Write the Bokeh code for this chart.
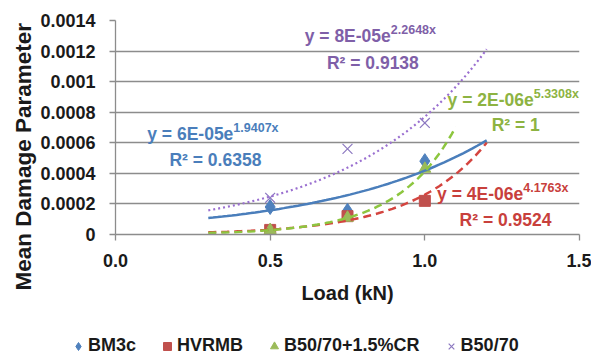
from bokeh.plotting import figure
from bokeh.layouts import column, row
from bokeh.models import (ColumnDataSource, FixedTicker, Legend, LegendItem, Label, Title,
                          PrintfTickFormatter)
from bokeh.embed import file_html
from bokeh.resources import INLINE
import numpy as np

# ---- data ----
loads = [0.5, 0.75, 1.0]
bm3c = [0.00018, 0.000155, 0.00048]
hvrmb = [0.00003, 0.00012, 0.00022]
b5070cr = [0.00003, 0.00011, 0.00043]
b5070 = [0.00024, 0.00056, 0.00073]
series_names = ["BM3c", "HVRMB", "B50/70+1.5%CR", "B50/70"]

# exponential trendlines y = A e^(b x) as reported on the chart
trend_A = [6e-05, 4e-06, 2e-06, 8e-05]
trend_b = [1.9407, 4.1763, 5.3308, 2.2648]
trend_r2 = ["0.6358", "0.9524", "1", "0.9138"]
trend_x_start = [0.3, 0.3, 0.3, 0.3]
trend_x_end = [1.2, 1.2, 1.1, 1.2]

x_ticks = [0.0, 0.5, 1.0, 1.5]
y_ticks = [0, 0.0002, 0.0004, 0.0006, 0.0008, 0.001, 0.0012, 0.0014]
y_tick_labels = ["0", "0.0002", "0.0004", "0.0006", "0.0008", "0.001", "0.0012", "0.0014"]
y_title = "Mean Damage Parameter"
x_title = "Load (kN)"

# ---- style ----
FONT = "Liberation Sans"
marker_colors = ["#4F81BD", "#C0504D", "#9BBB59", "#8C78C0"]
markers = ["diamond", "square", "triangle", "x"]
marker_sizes = [15, 11, 12, 14]
line_colors = ["#4A7EBB", "#D4443F", "#8DC63F", "#9A6FD0"]
text_colors = ["#4A7EBB", "#C8403C", "#8DB342", "#7F5FA8"]
dashes = ["solid", "8 5", "8 5", "2 3"]

p = figure(width=591, height=332, output_backend="svg", toolbar_location=None,
           x_range=(0, 1.5), y_range=(0, 0.0014),
           min_border_left=115, min_border_right=12, min_border_top=20, min_border_bottom=98)
p.outline_line_color = None
p.xgrid.grid_line_color = None
p.ygrid.grid_line_color = "#8C8C8C"
p.ygrid.grid_line_width = 1.3
p.ygrid.ticker = FixedTicker(ticks=y_ticks)

p.xaxis.ticker = FixedTicker(ticks=x_ticks)
p.xaxis.formatter = PrintfTickFormatter(format="%.1f")
p.yaxis.ticker = FixedTicker(ticks=y_ticks)
p.yaxis.major_label_overrides = {t: l for t, l in zip(y_ticks, y_tick_labels)}
for ax in (p.xaxis, p.yaxis):
    ax.axis_line_color = "#8C8C8C"
    ax.axis_line_width = 1.3
    ax.major_tick_line_color = "#8C8C8C"
    ax.major_tick_line_width = 1.3
    ax.major_tick_out = 6
    ax.major_tick_in = 0
    ax.minor_tick_line_color = None
    ax.major_label_text_font = FONT
    ax.major_label_text_font_style = "bold"
    ax.major_label_text_font_size = "18px"
    ax.major_label_text_color = "#1a1a1a"
    ax.axis_label_text_font = FONT
    ax.axis_label_text_font_style = "bold"
    ax.axis_label_text_color = "#1a1a1a"
p.xaxis.axis_label = x_title
p.xaxis.axis_label_text_font_size = "20px"
p.xaxis.major_label_standoff = 13
p.xaxis.axis_label_standoff = 12
p.yaxis.major_label_standoff = 14

# y title: side-panel title starting below the frame bottom, as in the original
p.add_layout(Title(text=y_title, align="left", offset=-56, text_font=FONT,
                   text_font_size="22.5px", text_font_style="bold", text_color="#1a1a1a",
                   standoff=4), "left")

# ---- markers ----
src = ColumnDataSource(dict(x=loads, bm3c=bm3c, hvrmb=hvrmb, cr=b5070cr, b=b5070))
cols = ["bm3c", "hvrmb", "cr", "b"]
for i in range(4):
    if markers[i] == "x":
        p.scatter("x", cols[i], source=src, marker="x", size=marker_sizes[i],
                  line_color=marker_colors[i], line_width=1.2)
    else:
        p.scatter("x", cols[i], source=src, marker=markers[i], size=marker_sizes[i],
                  color=marker_colors[i])

# ---- trendlines ----
for i in range(4):
    xs = np.linspace(trend_x_start[i], trend_x_end[i], 60)
    ys = trend_A[i] * np.exp(trend_b[i] * xs)
    p.line(xs, ys, line_color=line_colors[i], line_width=2.5 if i != 3 else 2.2,
           line_dash=dashes[i])

# ---- trendline equations (anchor = where base text ends / R^2 centre) ----
eq_base = ["y = 6E-05e", "y = 4E-06e", "y = 2E-06e", "y = 8E-05e"]
eq_exp = ["1.9407x", "4.1763x", "5.3308x", "2.2648x"]
eq_anchor = [(0.381, 0.000655), (1.318, 0.000262), (1.352, 0.00088), (0.89, 0.0013)]
r2_anchor = [(0.323, 0.00049), (1.261, 0.000093), (1.294, 0.000715), (0.832, 0.00112)]
for i in range(4):
    ax_, ay_ = eq_anchor[i]
    p.add_layout(Label(x=ax_, y=ay_, text=eq_base[i], text_align="right", text_baseline="middle",
                       text_font=FONT, text_font_size="17.5px", text_font_style="bold",
                       text_color=text_colors[i]))
    p.add_layout(Label(x=ax_, y=ay_ + 0.00004, text=eq_exp[i], text_align="left",
                       text_baseline="middle", text_font=FONT, text_font_size="12.5px",
                       text_font_style="bold", text_color=text_colors[i]))
    rx, ry = r2_anchor[i]
    p.add_layout(Label(x=rx, y=ry, text="R\u00b2 = " + trend_r2[i], text_align="center",
                       text_baseline="middle", text_font=FONT, text_font_size="17.5px",
                       text_font_style="bold", text_color=text_colors[i]))

# ---- legend strip (separate small figure underneath) ----
lg = figure(width=591, height=24, output_backend="svg", toolbar_location=None,
            x_axis_type=None, y_axis_type=None, x_range=(0, 1), y_range=(0, 1),
            min_border_left=0, min_border_right=0, min_border_top=0, min_border_bottom=0)
lg.outline_line_color = None
lg.grid.visible = False
items = []
for i in range(4):
    hidden = ColumnDataSource(dict(x=[-5], y=[-5]))  # off-frame point; only the legend glyph shows
    if markers[i] == "x":
        r = lg.scatter("x", "y", source=hidden, marker="x", size=marker_sizes[i],
                       line_color=marker_colors[i], line_width=1.2)
    else:
        r = lg.scatter("x", "y", source=hidden, marker=markers[i], size=marker_sizes[i],
                       color=marker_colors[i])
    items.append(LegendItem(label=series_names[i], renderers=[r]))
legend = Legend(items=items, orientation="horizontal", location=(68, 0),
                border_line_color=None, background_fill_alpha=0,
                label_text_font=FONT, label_text_font_size="18px", label_text_font_style="bold",
                label_text_color="#1a1a1a", glyph_width=20, glyph_height=20, label_height=20,
                label_standoff=0, spacing=21, padding=0, margin=0)
lg.add_layout(legend, "center")

layout = column(p, row(lg), spacing=0)
open("out.html", "w").write(file_html(layout, INLINE))
